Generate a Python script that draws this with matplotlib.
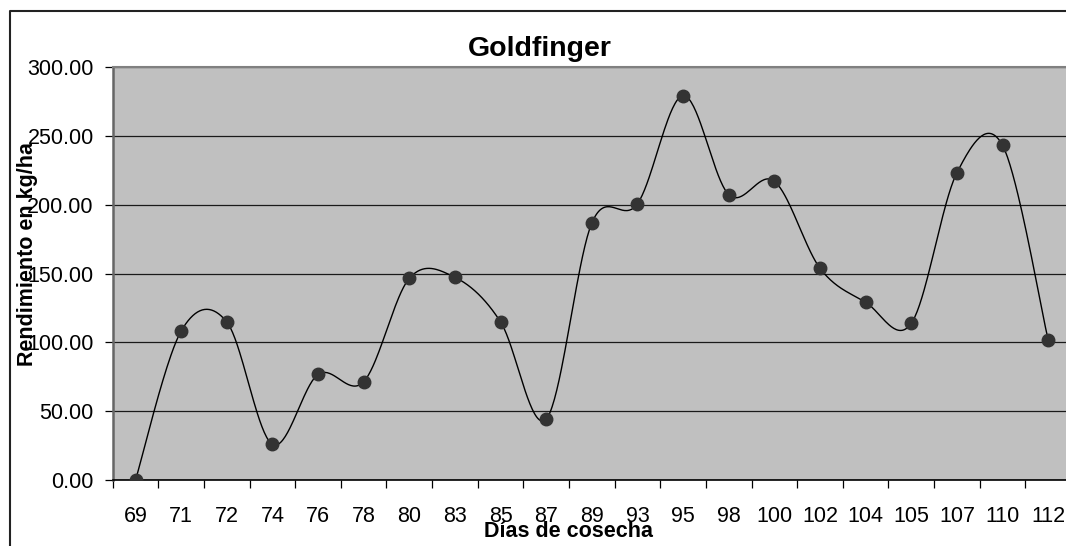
import matplotlib
matplotlib.use('Agg')
import matplotlib.pyplot as plt
import numpy as np
from matplotlib.lines import Line2D
from matplotlib.ticker import FormatStrFormatter, MultipleLocator

plt.rcParams['font.family'] = ['Liberation Sans', 'DejaVu Sans']

# datos
dias = ['69', '71', '72', '74', '76', '78', '80', '83', '85', '87', '89',
        '93', '95', '98', '100', '102', '104', '105', '107', '110', '112']
rendimiento = [0.0, 108.2, 114.8, 25.9, 76.7, 71.4, 146.5, 147.2, 114.8, 44.3, 186.7,
               200.7, 279.2, 207.3, 217.0, 153.8, 129.1, 113.8, 223.2, 243.1, 101.7]


def suavizar(x, y, pasos=40):
    # curva suavizada tipo Excel (bezier con puntos de control catmull-rom)
    p = np.column_stack([x, y]).astype(float)
    pm = np.vstack([p[0], p, p[-1]])
    t = np.linspace(0, 1, pasos)[:, None]
    partes = []
    for i in range(len(p) - 1):
        p0, p1, p2, p3 = pm[i], pm[i + 1], pm[i + 2], pm[i + 3]
        c1 = p1 + (p2 - p0) / 6.0
        c2 = p2 - (p3 - p1) / 6.0
        b = ((1 - t) ** 3) * p1 + 3 * ((1 - t) ** 2) * t * c1 + 3 * (1 - t) * t ** 2 * c2 + t ** 3 * p2
        partes.append(b if i == 0 else b[1:])
    c = np.vstack(partes)
    return c[:, 0], c[:, 1]


W, H = 1066, 546
fig = plt.figure(figsize=(W / 100, H / 100), dpi=100)
fig.patch.set_facecolor('white')

# area de trazado (en pixeles del original)
izq, der, arriba, abajo = 112.7, 1071.0, 67.0, 480.0
ax = fig.add_axes([izq / W, 1 - abajo / H, (der - izq) / W, (abajo - arriba) / H])
ax.set_facecolor('#C0C0C0')

x = np.arange(len(dias))
xs, ys = suavizar(x, rendimiento)
ax.plot(xs, ys, color='black', linewidth=1.0, zorder=3)
ax.plot(x, rendimiento, linestyle='none', marker='o', markersize=9,
        markerfacecolor='#333333', markeredgecolor='#333333', zorder=4)

ax.set_xlim(-0.5, len(dias) - 0.5)
ax.set_ylim(0, 300)

ax.yaxis.set_major_locator(MultipleLocator(50))
ax.yaxis.set_major_formatter(FormatStrFormatter('%.2f'))
ax.grid(axis='y', color='#1a1a1a', linewidth=0.9, zorder=1)
ax.set_axisbelow(True)

ax.set_xticks(x)
ax.set_xticklabels(dias)
ax.set_xticks(np.arange(-0.5, len(dias) - 1, 1), minor=True)
ax.tick_params(axis='x', which='major', length=0, pad=18.5, labelsize=15.5)
ax.tick_params(axis='x', which='minor', length=5.8, width=0.9, color='black', direction='out')
ax.tick_params(axis='y', length=5.8, width=0.9, color='black', direction='out', pad=7.9, labelsize=15.5)

ax.spines['top'].set_color('#808080')
ax.spines['top'].set_linewidth(1.5)
ax.spines['left'].set_color('#666666')
ax.spines['left'].set_linewidth(1.8)
ax.spines['right'].set_visible(False)
ax.spines['bottom'].set_color('black')
ax.spines['bottom'].set_linewidth(1.2)

fig.text(540 / W, 1 - 56 / H, 'Goldfinger', ha='center', va='baseline',
         fontsize=20.5, fontweight='bold')
fig.text(569 / W, 1 - 537 / H, 'Días de cosecha', ha='center', va='baseline',
         fontsize=15.5, fontweight='bold')
fig.text(28 / W, 1 - 254 / H, 'Rendimiento en kg/ha', ha='center', va='center',
         rotation=90, fontsize=15.5, fontweight='bold')

# marco del grafico
bx, by = 9.5 / W, 1 - 11 / H
fig.add_artist(Line2D([bx, bx, 1.01], [-0.01, by, by], color='#222222', linewidth=1.5))

fig.savefig('out.png', dpi=100)
